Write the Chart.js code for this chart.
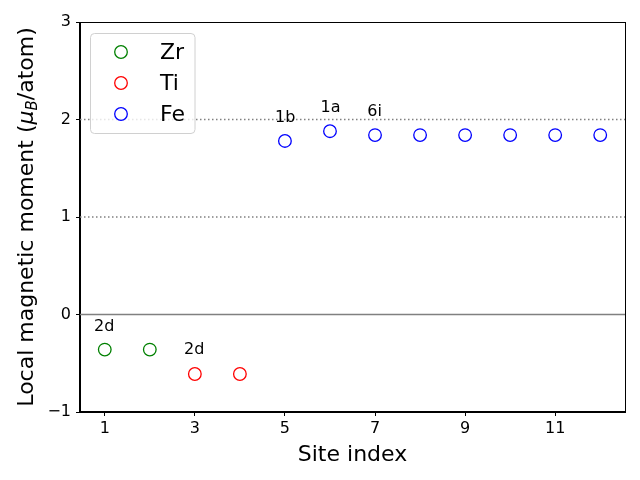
<!DOCTYPE html>
<html><head><meta charset="utf-8">
<script src="https://cdn.jsdelivr.net/npm/chart.js@4/dist/chart.umd.min.js"></script>
<style>html,body{margin:0;padding:0;background:#fff}#wrap{width:640px;height:480px}</style>
</head><body><div id="wrap"><canvas id="c" width="640" height="480"></canvas></div>
<script>
const zrSites = [1, 2];
const zrMoments = [-0.36, -0.36];
const tiSites = [3, 4];
const tiMoments = [-0.61, -0.61];
const feSites = [5, 6, 7, 8, 9, 10, 11, 12];
const feMoments = [1.78, 1.88, 1.84, 1.84, 1.84, 1.84, 1.84, 1.84];
const xTicks = [1, 3, 5, 7, 9, 11];
const yTicks = [-1, 0, 1, 2, 3];
const siteLabels = ['2d', '2d', '1b', '1a', '6i'];
const labelX = [0.76, 2.76, 4.78, 5.79, 6.83];
const labelY = [-0.17, -0.41, 1.97, 2.08, 2.04];
const dottedLevels = [1, 2];
const solidLevels = [0];

const FONT = "'DejaVu Sans', sans-serif";
const zip = (xs, ys) => xs.map((x, i) => ({x: x, y: ys[i]}));

const decor = {
  id: 'decor',
  beforeDatasetsDraw(chart) {
    const {ctx, chartArea: a, scales: {x, y}} = chart;
    ctx.save();
    ctx.strokeStyle = '#808080';
    ctx.lineWidth = 1.5;
    dottedLevels.forEach(v => {
      const py = y.getPixelForValue(v);
      ctx.setLineDash([1.5, 2.5]);
      ctx.beginPath(); ctx.moveTo(a.left, py); ctx.lineTo(a.right, py); ctx.stroke();
    });
    ctx.setLineDash([]);
    solidLevels.forEach(v => {
      const py = y.getPixelForValue(v);
      ctx.beginPath(); ctx.moveTo(a.left, py); ctx.lineTo(a.right, py); ctx.stroke();
    });
    ctx.restore();
  },
  afterDraw(chart) {
    const {ctx, chartArea: a, scales: {x, y}} = chart;
    ctx.save();
    // frame
    ctx.strokeStyle = '#000'; ctx.lineWidth = 1;
    ctx.strokeRect(Math.round(a.left) - 0.5, Math.round(a.top) + 0.5, Math.round(a.right - a.left) + 1, Math.round(a.bottom - a.top) - 1);
    // annotations
    ctx.fillStyle = '#000';
    ctx.font = '16px ' + FONT;
    ctx.textAlign = 'left'; ctx.textBaseline = 'alphabetic';
    siteLabels.forEach((t, i) => {
      ctx.fillText(t, x.getPixelForValue(labelX[i]), y.getPixelForValue(labelY[i]));
    });
    // legend
    const lx = 90.5, ly = 33.5, lw = 104.5, lh = 100;
    ctx.beginPath();
    ctx.roundRect(lx, ly, lw, lh, 4);
    ctx.fillStyle = 'rgba(255,255,255,0.8)'; ctx.fill();
    ctx.strokeStyle = '#d0d0d0'; ctx.lineWidth = 1; ctx.stroke();
    chart.data.datasets.forEach((ds, i) => {
      const cy = 52 + i * 31;
      ctx.beginPath(); ctx.arc(121, cy, 6.3, 0, Math.PI * 2);
      ctx.strokeStyle = ds.borderColor; ctx.lineWidth = 1.3; ctx.stroke();
      ctx.fillStyle = '#000'; ctx.font = '22px ' + FONT;
      ctx.textBaseline = 'middle';
      ctx.fillText(ds.label, 160, cy + 1);
    });
    // x title
    ctx.textBaseline = 'alphabetic'; ctx.textAlign = 'center';
    ctx.font = '22px ' + FONT;
    ctx.fillText('Site index', (a.left + a.right) / 2, 461);
    // y title with subscript
    const parts = [
      {t: 'Local magnetic moment (', f: '22px ' + FONT, dy: 0},
      {t: 'μ', f: 'italic 22px ' + FONT, dy: 0},
      {t: 'B', f: 'italic 15px ' + FONT, dy: 4},
      {t: '/atom)', f: '22px ' + FONT, dy: 0}
    ];
    let total = 0;
    parts.forEach(p => { ctx.font = p.f; p.w = ctx.measureText(p.t).width; total += p.w; });
    ctx.translate(33, (a.top + a.bottom) / 2);
    ctx.rotate(-Math.PI / 2);
    ctx.textAlign = 'left';
    let cx = -total / 2;
    parts.forEach(p => { ctx.font = p.f; ctx.fillText(p.t, cx, p.dy); cx += p.w; });
    ctx.restore();
  }
};

new Chart(document.getElementById('c'), {
  type: 'scatter',
  data: {
    datasets: [
      {label: 'Zr', data: zip(zrSites, zrMoments), borderColor: '#008000', backgroundColor: 'rgba(0,0,0,0)'},
      {label: 'Ti', data: zip(tiSites, tiMoments), borderColor: '#ff0000', backgroundColor: 'rgba(0,0,0,0)'},
      {label: 'Fe', data: zip(feSites, feMoments), borderColor: '#0000ff', backgroundColor: 'rgba(0,0,0,0)'}
    ]
  },
  options: {
    responsive: false, animation: false, devicePixelRatio: 1,
    layout: {padding: {top: 22, right: 15, left: 0, bottom: 0}},
    elements: {point: {radius: 6.3, hoverRadius: 6.3, borderWidth: 1.3}},
    plugins: {legend: {display: false}, tooltip: {enabled: false}},
    scales: {
      x: {
        type: 'linear', min: 0.45, max: 12.55,
        afterBuildTicks: s => { s.ticks = xTicks.map(v => ({value: v})); },
        afterFit: s => { s.height = 68; },
        grid: {drawOnChartArea: false, drawTicks: true, tickLength: 4, color: '#000'},
        border: {display: true, color: '#000', width: 1},
        ticks: {color: '#000', font: {family: FONT, size: 16}, padding: 3, maxRotation: 0}
      },
      y: {
        type: 'linear', min: -1, max: 3,
        afterBuildTicks: s => { s.ticks = yTicks.map(v => ({value: v})); },
        afterFit: s => { s.width = 80; },
        grid: {drawOnChartArea: false, drawTicks: true, tickLength: 4, color: '#000'},
        border: {display: true, color: '#000', width: 1},
        ticks: {color: '#000', font: {family: FONT, size: 16}, padding: 5,
          callback: v => (v < 0 ? '\u2212' + Math.abs(v) : String(v))}
      }
    }
  },
  plugins: [decor]
});
</script></body></html>
